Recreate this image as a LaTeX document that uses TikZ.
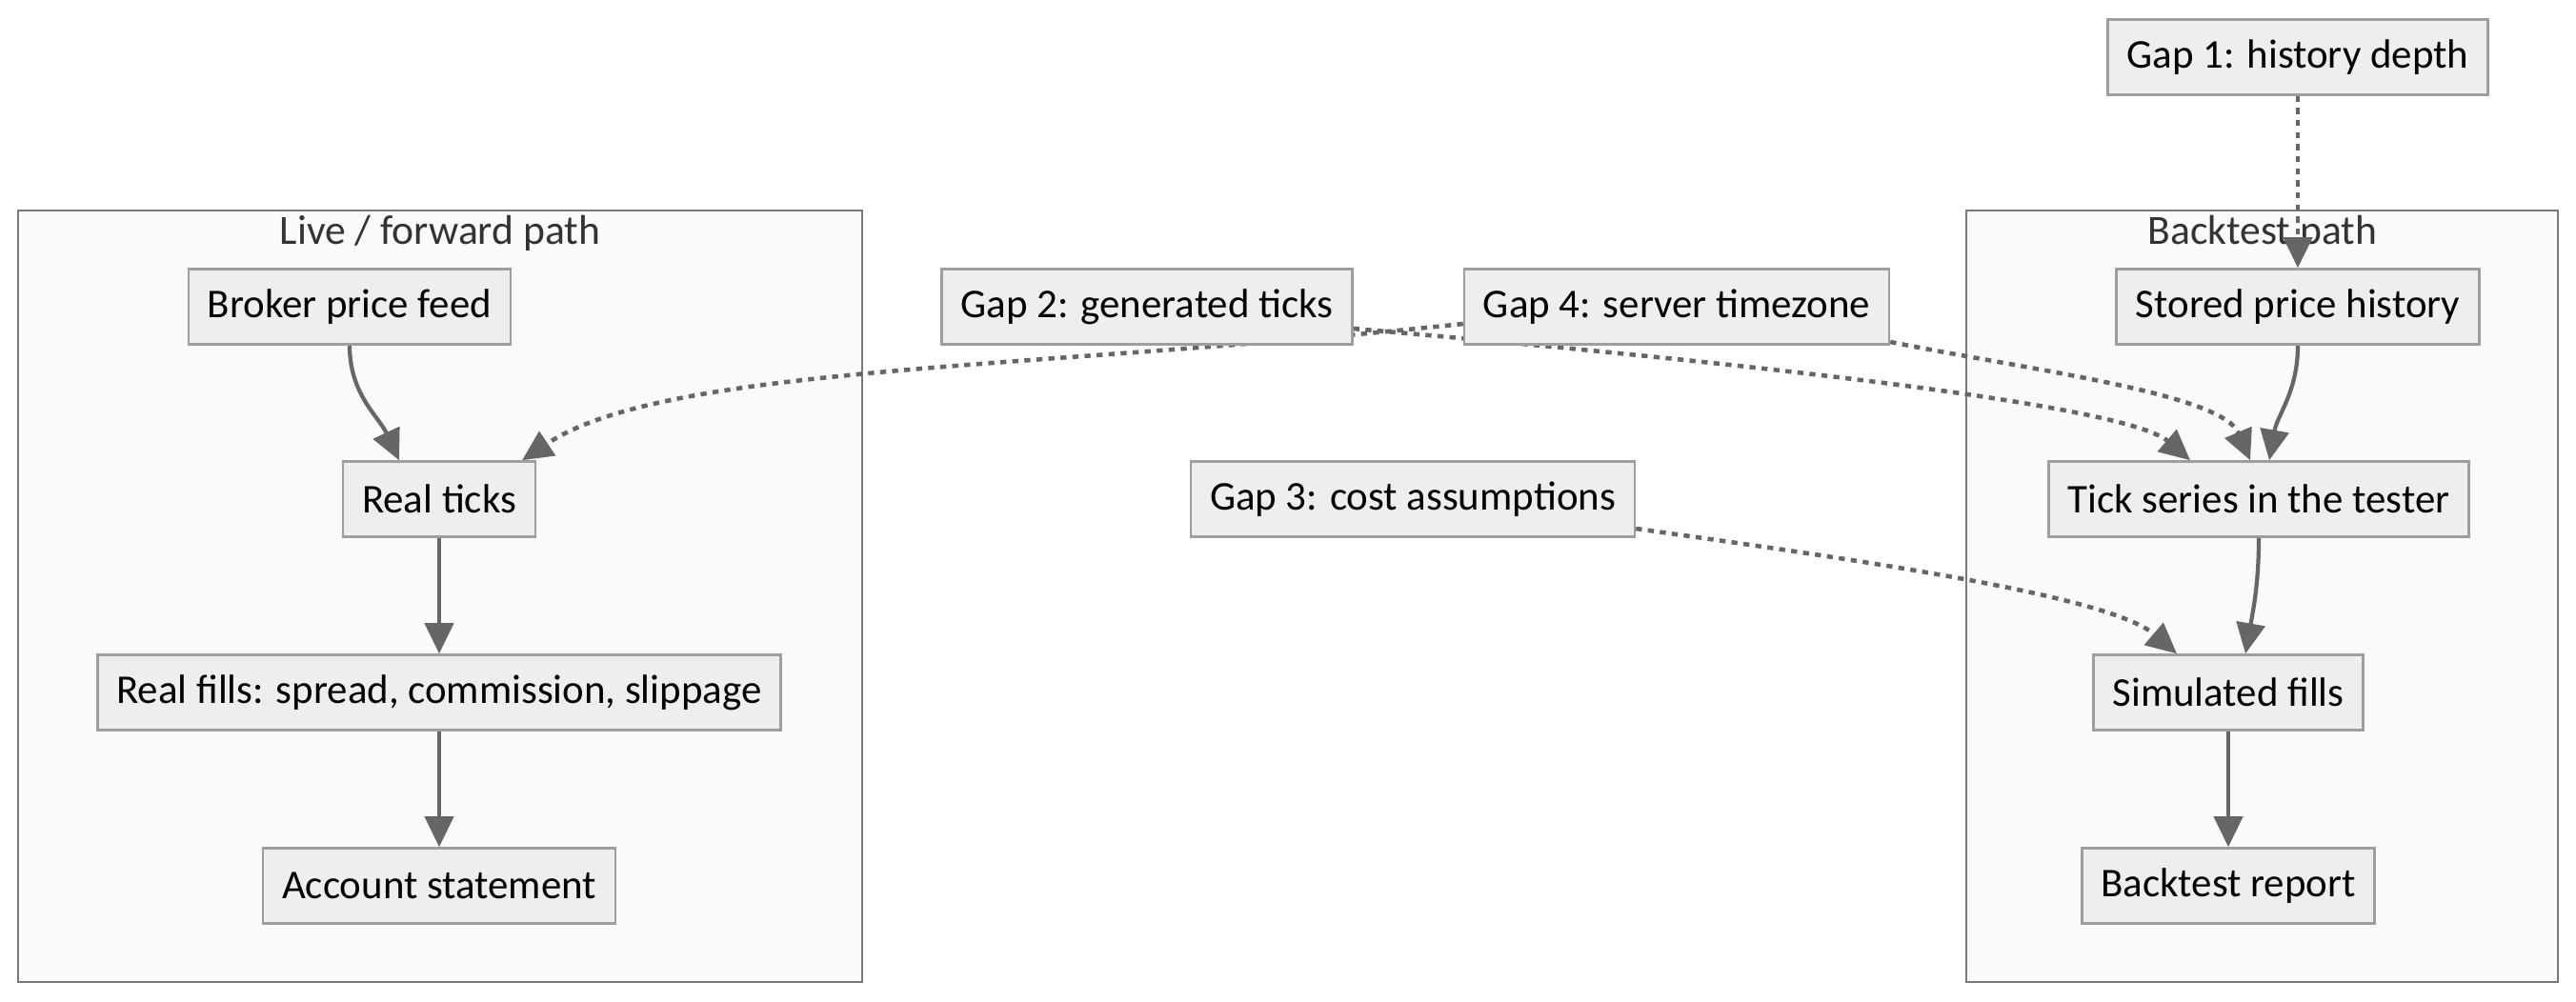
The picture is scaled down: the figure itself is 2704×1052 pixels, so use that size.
\documentclass[tikz,border=0pt]{standalone}
\usepackage{fontspec}
\setmainfont{Carlito}
\usetikzlibrary{arrows.meta}
\definecolor{boxfill}{HTML}{EEEEEE}
\definecolor{boxline}{HTML}{9E9E9E}
\definecolor{edgegray}{HTML}{666666}
\definecolor{groupfill}{HTML}{FAFAFA}
\definecolor{groupline}{HTML}{7A7A7A}
\definecolor{grouptext}{HTML}{333333}
\pgfdeclarelayer{bg}
\pgfdeclarelayer{edges}
\pgfsetlayers{bg,edges,main}

\begin{document}
\begin{tikzpicture}[x=0.01cm,y=-0.01cm,
    box/.style={draw=boxline, fill=boxfill, line width=0.7pt, minimum height=0.79cm,
        inner xsep=0.2cm, font=\fontsize{12.2}{14}\selectfont},
    group/.style={draw=groupline, fill=groupfill, line width=0.7pt},
    grouplabel/.style={text=grouptext, font=\fontsize{12.4}{14}\selectfont},
    flow/.style={draw=edgegray, line width=1.2pt, -{Triangle[length=0.32cm,width=0.3cm]}},
    gapflow/.style={flow, line width=1.3pt, dash pattern=on 1.8pt off 1.8pt}]
    \useasboundingbox (0,0) rectangle (2704,1052);

    % the two paths
    \begin{pgfonlayer}{bg}
        \draw[group] (19,221) rectangle (905,1031);
        \node[grouplabel] (livetitle) at (462,245) {Live / forward path};
        \draw[group] (2064,221) rectangle (2685,1031);
        \node[grouplabel] (testtitle) at (2375,245) {Backtest path};
    \end{pgfonlayer}

    % live side
    \node[box] (feed) at (367,322) {Broker price feed};
    \node[box] (realticks) at (461,524) {Real ticks};
    \node[box] (realfills) at (461,727) {Real fills: spread, commission, slippage};
    \node[box] (statement) at (461,930) {Account statement};

    % backtest side
    \node[box] (history) at (2412,322) {Stored price history};
    \node[box] (testticks) at (2371,524) {Tick series in the tester};
    \node[box] (simfills) at (2339,727) {Simulated fills};
    \node[box] (report) at (2339,930) {Backtest report};

    % the gaps
    \node[box] (gap1) at (2412,60) {Gap 1: history depth};
    \node[box] (gap2) at (1204,322) {Gap 2: generated ticks};
    \node[box] (gap3) at (1483,524) {Gap 3: cost assumptions};
    \node[box] (gap4) at (1760,322) {Gap 4: server timezone};

    \begin{pgfonlayer}{edges}
        \draw[flow] (feed.south) to[out=-90, in=115] ([xshift=-0.42cm]realticks.north);
        \draw[flow] (realticks) -- (realfills);
        \draw[flow] (realfills) -- (statement);
        \draw[flow] (history.south) to[out=-90, in=80] ([xshift=0.11cm]testticks.north);
        \draw[flow] (testticks.south) to[out=-90, in=80] ([xshift=0.18cm]simfills.north);
        \draw[flow] (simfills) -- (report);

        \draw[gapflow] (gap1) -- (history);
        \draw[gapflow] ([yshift=-0.23cm]gap2.east) .. controls +(380,33) and +(-70,-60) .. ([xshift=-0.72cm]testticks.north);
        \draw[gapflow] ([yshift=-0.18cm]gap4.west) .. controls +(-450,48) and +(150,-100) .. ([xshift=0.87cm]realticks.north);
        \draw[gapflow] ([yshift=-0.37cm]gap4.east) .. controls +(150,30) and +(-30,-70) .. ([xshift=-0.09cm]testticks.north);
        \draw[gapflow] ([yshift=-0.31cm]gap3.east) .. controls +(250,35) and +(-70,-60) .. ([xshift=-0.54cm]simfills.north);
    \end{pgfonlayer}
\end{tikzpicture}
\end{document}
